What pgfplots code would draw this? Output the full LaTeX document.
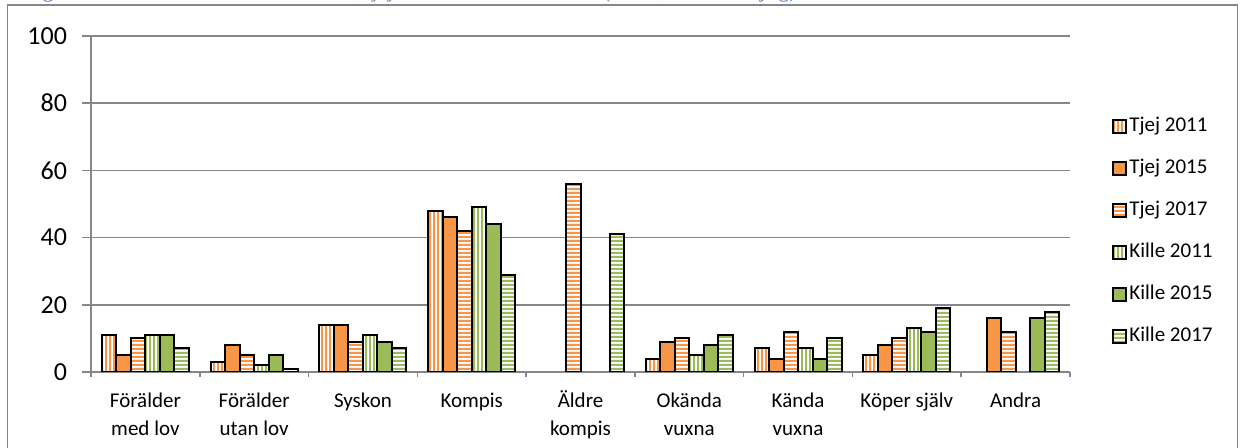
\documentclass[border=0pt]{standalone}
\usepackage{fontspec}
\setmainfont{Carlito}
\newfontfamily\capfont{Liberation Serif}
\usepackage{pgfplots}
\usepackage{pgfplotstable}
\pgfplotsset{compat=1.18}
\usetikzlibrary{patterns}

\definecolor{torange}{HTML}{F79646}
\definecolor{kgreen}{HTML}{9BBB59}
\definecolor{gridgray}{HTML}{868686}
\definecolor{capblue}{HTML}{4F81BD}

% striped fills, as in the original
\pgfdeclarepatternformonly{vstripes}{\pgfqpoint{0pt}{0pt}}{\pgfqpoint{2.2pt}{2.2pt}}{\pgfqpoint{2.2pt}{2.2pt}}%
{\pgfpathrectangle{\pgfqpoint{0pt}{0pt}}{\pgfqpoint{1.2pt}{2.2pt}}\pgfusepath{fill}}
\pgfdeclarepatternformonly{hstripes}{\pgfqpoint{0pt}{0pt}}{\pgfqpoint{2.2pt}{2.2pt}}{\pgfqpoint{2.2pt}{2.2pt}}%
{\pgfpathrectangle{\pgfqpoint{0pt}{0pt}}{\pgfqpoint{2.2pt}{1.2pt}}\pgfusepath{fill}}

\pgfplotsset{
  mybar/.style={ybar, bar width=7.25pt, draw=black, line width=1pt, forget plot},
  sq/.style={draw=black, line width=1pt,
    legend image code/.code={\draw[##1] (0pt,-3.25pt) rectangle (6.5pt,3.25pt);}},
}

\pgfplotstableread{
x t11 t15 t17 k11 k15 k17
0 11  5   10  11  11  7
1 3   8   5   2   5   1
2 14  14  9   11  9   7
3 48  46  42  49  44  29
4 nan nan 56  nan nan 41
5 4   9   10  5   8   11
6 7   4   12  7   4   10
7 5   8   10  13  12  19
8 nan 16  12  nan 16  18
}\datatable

\newcommand\hA{\vphantom{Ä}}

\begin{document}
\begin{tikzpicture}
\useasboundingbox (0,0) rectangle (620pt,224pt);
\draw[gridgray, line width=0.75pt] (3.75pt,-5pt) rectangle (618.75pt,221.5pt);
\node[anchor=base west, inner sep=0pt, text=capblue, font=\capfont\fontsize{11}{13}\selectfont] at (12pt,225pt)
  {Figur 6. Varifrån eleverna får alkohol, tjejer och killar i årskurs 9 (andel, flerval möjlig)};
\begin{axis}[
  at={(45.5pt,38pt)}, anchor=south west,
  scale only axis, width=489.5pt, height=168pt,
  xmin=-0.5, xmax=8.5, ymin=0, ymax=100,
  ytick={0,20,...,100},
  xtick={0,...,8},
  xticklabels={{\hA Förälder\\med lov},{\hA Förälder\\utan lov},\hA Syskon,\hA Kompis,{\hA Äldre\\kompis},{\hA Okända\\vuxna},{\hA Kända\\vuxna},\hA Köper själv,\hA Andra},
  minor xtick={-0.5,0.5,...,8.5},
  axis lines=left, axis line style={-, draw=gridgray, line width=0.75pt},
  ymajorgrids, grid style={gridgray, line width=0.75pt},
  tick align=outside, major tick length=4.5pt, minor tick length=2.5pt,
  major x tick style={draw=none},
  minor x tick style={gridgray, line width=0.75pt},
  ytick style={gridgray, line width=0.75pt},
  /pgf/number format/assume math mode=true,
  yticklabel style={font=\fontsize{13}{15}\selectfont, xshift=-4pt},
  xticklabel style={font=\fontsize{10.5}{13.8}\selectfont, align=center, anchor=north, yshift=-1.5pt},
  legend cell align=left,
  legend style={at={(1.0368,0.775)}, anchor=north west, draw=none, fill=none,
    font=\fontsize{10.5}{12}\selectfont, row sep=9.95pt,
    nodes={inner sep=1pt, text height=7pt, text depth=2pt}},
]
\addplot[mybar, bar shift=-18.125pt, preaction={fill=white}, pattern=vstripes, pattern color=torange] table[x=x,y=t11]{\datatable};
\addplot[mybar, bar shift=-10.875pt, fill=torange] table[x=x,y=t15]{\datatable};
\addplot[mybar, bar shift=-3.625pt, preaction={fill=white}, pattern=hstripes, pattern color=torange] table[x=x,y=t17]{\datatable};
\addplot[mybar, bar shift=3.625pt, preaction={fill=white}, pattern=vstripes, pattern color=kgreen] table[x=x,y=k11]{\datatable};
\addplot[mybar, bar shift=10.875pt, fill=kgreen] table[x=x,y=k15]{\datatable};
\addplot[mybar, bar shift=18.125pt, preaction={fill=white}, pattern=hstripes, pattern color=kgreen] table[x=x,y=k17]{\datatable};
\addlegendimage{sq, preaction={fill=white}, pattern=vstripes, pattern color=torange}
\addlegendimage{sq, fill=torange}
\addlegendimage{sq, preaction={fill=white}, pattern=hstripes, pattern color=torange}
\addlegendimage{sq, preaction={fill=white}, pattern=vstripes, pattern color=kgreen}
\addlegendimage{sq, fill=kgreen}
\addlegendimage{sq, preaction={fill=white}, pattern=hstripes, pattern color=kgreen}
\legend{Tjej 2011,Tjej 2015,Tjej 2017,Kille 2011,Kille 2015,Kille 2017}
\end{axis}
\end{tikzpicture}
\end{document}
